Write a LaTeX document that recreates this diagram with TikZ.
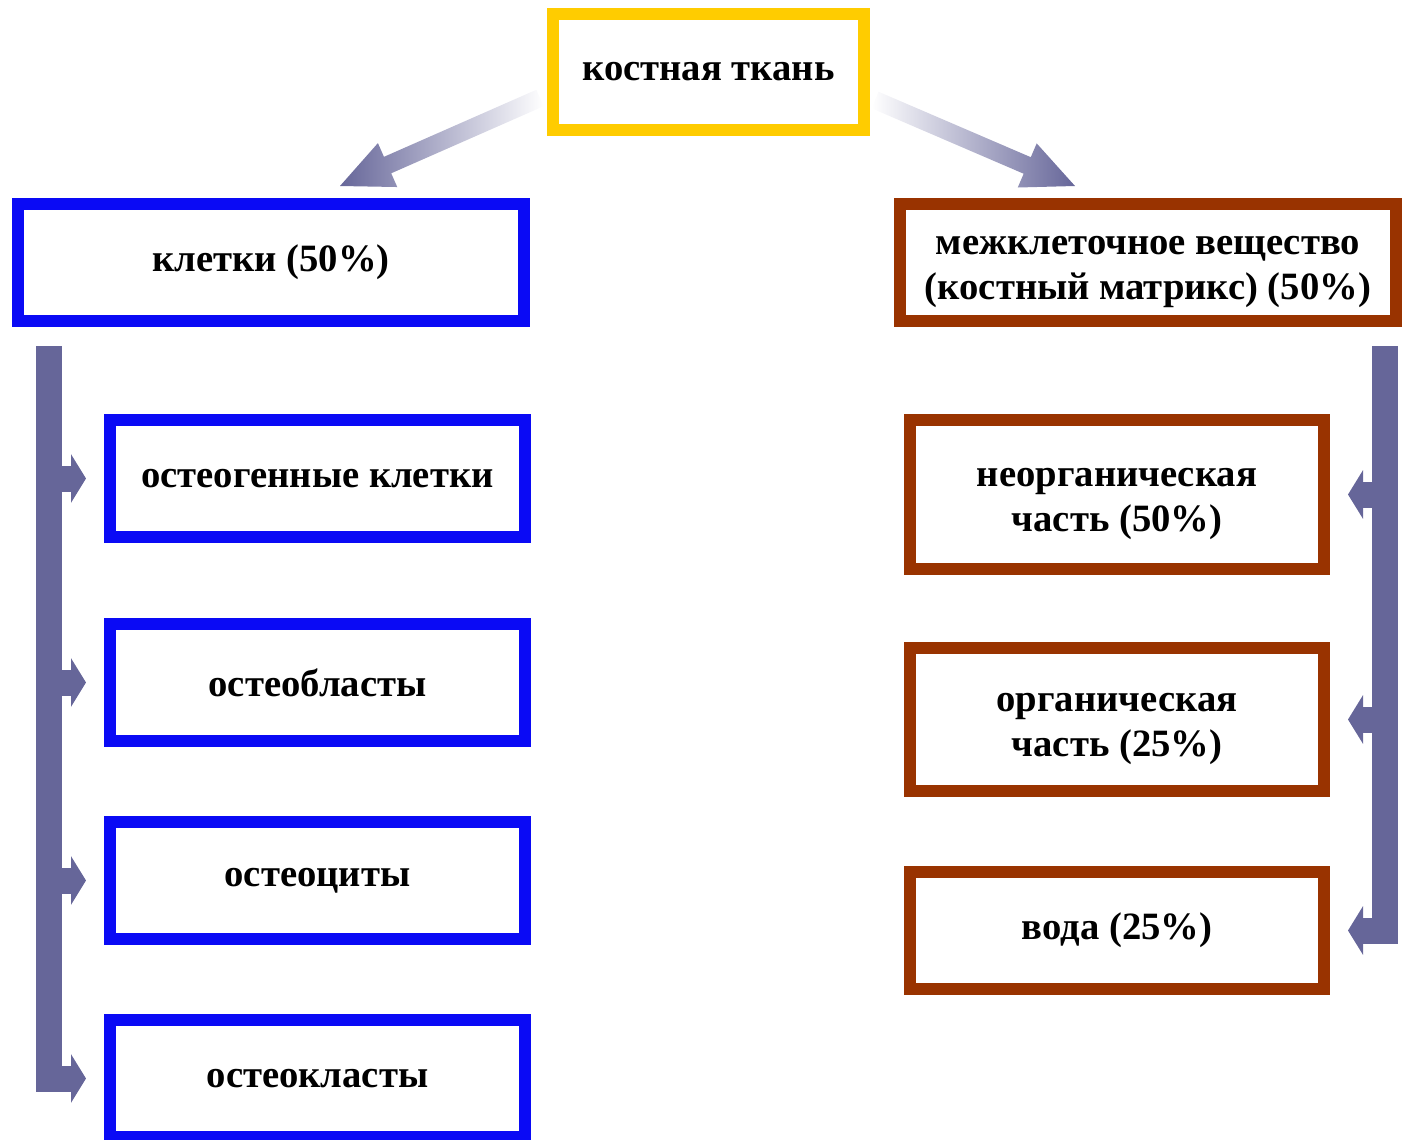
\documentclass[tikz,border=0pt]{standalone}
\usepackage{fontspec}
\setmainfont{Liberation Serif}
\usetikzlibrary{arrows.meta,calc}
\definecolor{tkanyellow}{RGB}{255,204,0}
\definecolor{kletblue}{RGB}{10,10,245}
\definecolor{matbrown}{RGB}{153,51,0}
\definecolor{slate}{RGB}{102,102,153}

\begin{document}
\begin{tikzpicture}
\tikzset{box/.style = {draw, line width=0.12cm, fill=white, align=center, inner sep=0pt,
    font=\fontsize{11}{12.8}\selectfont\bfseries},
  twoline/.style = {text height=0.85cm, text depth=0.12cm},
  yellowbox/.style = {box, draw=tkanyellow, minimum width=3.11cm, minimum height=1.16cm},
  bluebox/.style = {box, draw=kletblue, minimum width=4.15cm, minimum height=1.17cm},
  brownbox/.style = {box, draw=matbrown, minimum width=4.14cm},
  bar/.style = {slate, line width=0.26cm},
  side/.style = {slate, line width=0.26cm, -{Triangle[width=0.48cm,length=0.15cm]}}}
\useasboundingbox (0,0) rectangle (14.02,-11.40);

\node[yellowbox] (tkan) at (7.085,-0.72) {костная ткань};
\node[bluebox, minimum width=5.06cm] (kletki) at (2.71,-2.625) {клетки (50\%)};
\node[brownbox, twoline, minimum width=4.96cm, minimum height=1.17cm] (matrix) at (11.48,-2.625)
  {межклеточное вещество\\(костный матрикс) (50\%)};

\node[bluebox] (osteogen) at (3.175,-4.785) {остеогенные клетки};
\node[bluebox] (osteoblast) at (3.175,-6.825) {остеобласты};
\node[bluebox] (osteocyte) at (3.175,-8.805) {остеоциты};
\node[bluebox] (osteoclast) at (3.175,-10.785) {остеокласты};

\node[brownbox, twoline, minimum height=1.49cm] (neorg) at (11.17,-4.945) {неорганическая\\часть (50\%)};
\node[brownbox, twoline, minimum height=1.43cm] (org) at (11.17,-7.195) {органическая\\часть (25\%)};
\node[brownbox, minimum height=1.17cm] (voda) at (11.17,-9.305) {вода (25\%)};

% big arrows from the top box
\coordinate (lt) at (5.40,-0.98);
\coordinate (lh) at (3.40,-1.86);
\coordinate (lb) at ($(lh)!0.52cm!(lt)$);
\shade[left color=slate, right color=white]
  ($(lt)!0.09cm!90:(lh)$) -- ($(lb)!0.09cm!90:(lh)$) -- ($(lb)!0.24cm!90:(lh)$) -- (lh)
  -- ($(lb)!0.24cm!-90:(lh)$) -- ($(lb)!0.09cm!-90:(lh)$) -- ($(lt)!0.09cm!-90:(lh)$) -- cycle;
\coordinate (rt) at (8.75,-1.00);
\coordinate (rh) at (10.75,-1.86);
\coordinate (rb) at ($(rh)!0.52cm!(rt)$);
\shade[left color=white, right color=slate]
  ($(rt)!0.09cm!90:(rh)$) -- ($(rb)!0.09cm!90:(rh)$) -- ($(rb)!0.24cm!90:(rh)$) -- (rh)
  -- ($(rb)!0.24cm!-90:(rh)$) -- ($(rb)!0.09cm!-90:(rh)$) -- ($(rt)!0.09cm!-90:(rh)$) -- cycle;

% left bar
\coordinate (ltop) at (0.495,-3.46);
\coordinate (lbot) at (0.495,-10.915);
\draw[bar] (ltop) -- (lbot);
\foreach \n in {osteogen,osteoblast,osteocyte,osteoclast}
  \draw[side] (ltop |- \n.west) -- ($(\n.west)+(-0.18,0)$);

% right bar
\coordinate (rtop) at (13.85,-3.46);
\coordinate (rbot) at (13.85,-9.435);
\draw[bar] (rtop) -- (rbot);
\foreach \n in {neorg,org,voda}
  \draw[side] (rtop |- \n.east) -- ($(\n.east)+(0.18,0)$);
\end{tikzpicture}
\end{document}
